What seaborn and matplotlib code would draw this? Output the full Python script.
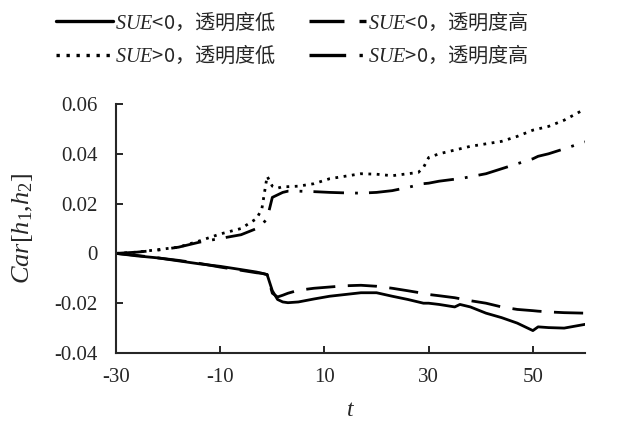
import pandas as pd
import matplotlib
matplotlib.use("Agg")
import matplotlib.pyplot as plt
import seaborn as sns
from matplotlib.lines import Line2D
from matplotlib.font_manager import FontProperties

# Datos (dias relativos al anuncio)
t = [-30, -26, -22, -18, -14, -10, -6, -3, -2, -1, 0, 1, 2, 3, 5, 8, 11, 14, 17, 20,
     23, 26, 28, 29, 30, 32, 35, 36, 38, 41, 44, 47, 50, 51, 53, 56, 60]

neg_low = [0, -0.0010, -0.0018, -0.0030, -0.0042, -0.0052, -0.0065, -0.0075, -0.0080, -0.0085,
           -0.0150, -0.0185, -0.0195, -0.0198, -0.0195, -0.0183, -0.0172, -0.0165, -0.0158, -0.0158,
           -0.0172, -0.0185, -0.0195, -0.0200, -0.0200, -0.0205, -0.0215, -0.0205, -0.0215, -0.0240,
           -0.0258, -0.0280, -0.0310, -0.0295, -0.0298, -0.0300, -0.0285]
neg_high = [0, -0.0008, -0.0018, -0.0028, -0.0040, -0.0055, -0.0068, -0.0078, -0.0080, -0.0085,
            -0.0160, -0.0175, -0.0168, -0.0160, -0.0148, -0.0140, -0.0135, -0.0130, -0.0128, -0.0132,
            -0.0140, -0.0150, -0.0157, -0.0162, -0.0165, -0.0170, -0.0178, -0.0182, -0.0190, -0.0200,
            -0.0215, -0.0225, -0.0230, -0.0232, -0.0235, -0.0238, -0.0240]
pos_low = [0, 0.0005, 0.0015, 0.0025, 0.0050, 0.0078, 0.0100, 0.0140, 0.0180, 0.0310,
           0.0270, 0.0262, 0.0268, 0.0268, 0.0270, 0.0280, 0.0300, 0.0310, 0.0320, 0.0318,
           0.0312, 0.0320, 0.0325, 0.0345, 0.0385, 0.0400, 0.0415, 0.0420, 0.0430, 0.0440,
           0.0450, 0.0470, 0.0495, 0.0500, 0.0510, 0.0535, 0.0580]
pos_high = [0, 0.0005, 0.0013, 0.0025, 0.0045, 0.0060, 0.0075, 0.0100, 0.0115, 0.0140,
            0.0225, 0.0235, 0.0245, 0.0250, 0.0250, 0.0248, 0.0245, 0.0243, 0.0242, 0.0245,
            0.0252, 0.0265, 0.0275, 0.0280, 0.0282, 0.0290, 0.0298, 0.0300, 0.0308, 0.0320,
            0.0340, 0.0360, 0.0380, 0.0390, 0.0400, 0.0420, 0.0448]

grupos = ["$SUE$<0，透明度低", "$SUE$>0，透明度低", "$SUE$<0，透明度高", "$SUE$>0，透明度高"]
series = [neg_low, pos_low, neg_high, pos_high]
estilos = {grupos[0]: "", grupos[1]: (1, 2), grupos[2]: (10.5, 4.5), grupos[3]: (11, 4, 1, 4)}

xticks = [-30, -10, 10, 30, 50]
yticks = [-0.04, -0.02, 0, 0.02, 0.04, 0.06]
ytick_labels = ["-0.04", "-0.02", "0", "0.02", "0.04", "0.06"]

df = pd.concat([pd.DataFrame({"t": t, "car": s, "grupo": g}) for g, s in zip(grupos, series)])

sns.set_style("ticks")
plt.rcParams["mathtext.fontset"] = "custom"
plt.rcParams["mathtext.it"] = "Liberation Serif:italic"
plt.rcParams["mathtext.rm"] = "Liberation Serif"
plt.rcParams["font.family"] = ["Liberation Serif", "Noto Sans CJK SC"]

fig = plt.figure(figsize=(6.17, 4.25), dpi=100)
ax = fig.add_axes([116 / 617, 1 - 353 / 425, 469 / 617, 249 / 425])

sns.lineplot(data=df, x="t", y="car", style="grupo", style_order=grupos, dashes=estilos,
             color="black", linewidth=2, legend=False, ax=ax)

ax.set_xlim(-30, 60)
ax.set_ylim(-0.04, 0.06)
ax.set_xticks(xticks)
ax.set_xticklabels([str(v) for v in xticks])
ax.set_yticks(yticks)
ax.set_yticklabels(ytick_labels)
ax.tick_params(direction="in", length=5, width=1.4, labelsize=15)
ax.tick_params(axis="y", pad=13)
ax.tick_params(axis="x", pad=11)
for lbl in ax.get_xticklabels() + ax.get_yticklabels():
    lbl.set_family("Liberation Serif")
sns.despine(ax=ax)
for sp in ["left", "bottom"]:
    ax.spines[sp].set_linewidth(1.5)

ax.set_xlabel("$t$", fontsize=17, labelpad=9)
ax.set_ylabel("$Car[h_1{,}h_2]$", fontsize=19, labelpad=14)

# Leyenda arriba, dos columnas
handles = [Line2D([], [], color="black", linewidth=2.4) for _ in grupos]
for h, g in zip(handles, grupos):
    if estilos[g]:
        h.set_dashes(estilos[g])
fig.legend(handles, grupos, loc="upper left", bbox_to_anchor=(46 / 617, 1.0), ncol=2,
           frameon=False, prop=FontProperties(family="Noto Sans CJK SC", size=14.5),
           handlelength=2.85, handletextpad=0.1, columnspacing=1.6, labelspacing=0.5,
           borderaxespad=0.1)

plt.savefig("out.png", dpi=100)
